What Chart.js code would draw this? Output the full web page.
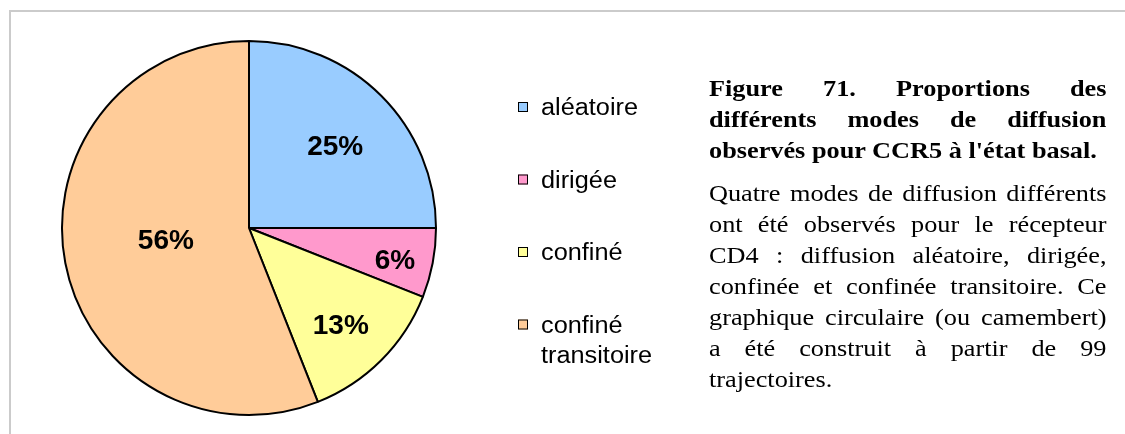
<!DOCTYPE html>
<html>
<head>
<meta charset="utf-8">
<script src="https://cdn.jsdelivr.net/npm/chart.js@4/dist/chart.umd.min.js"></script>
<style>
  html, body { margin: 0; padding: 0; background: #fff; }
  #wrap { position: relative; width: 1125px; height: 434px; overflow: hidden; }
  #frame { position: absolute; left: 9px; top: 10px; width: 1200px; height: 500px;
           border-left: 2px solid #cbcbcb; border-top: 2px solid #cbcbcb; }
  #pie { position: absolute; left: 0; top: 0; }
  /* the caption is set a little wide, like the rest of the figure */
  #caption { position: absolute; left: 709px; top: 73px; width: 363px;
             transform: scaleX(1.095); transform-origin: 0 0;
             font-family: "Liberation Serif", "Times New Roman", serif; font-size: 24px;
             color: #000; text-align: justify; }
  #caption p { margin: 0; line-height: 31px; }
  #caption .title { font-weight: bold; margin-bottom: 12px; }
</style>
</head>
<body>
<div id="wrap">
  <div id="frame"></div>
  <canvas id="pie" width="1125" height="434"></canvas>
  <div id="caption">
    <p class="title">Figure 71. Proportions des différents modes de diffusion observés pour CCR5 à l'état basal.</p>
    <p>Quatre modes de diffusion différents ont été observés pour le récepteur CD4 : diffusion aléatoire, dirigée, confinée et confinée transitoire. Ce graphique circulaire (ou camembert) a été construit à partir de 99 trajectoires.</p>
  </div>
</div>
<script>
// modes de diffusion (% des trajectoires)
var modes = ['aléatoire', 'dirigée', 'confiné', 'confiné transitoire'];
var parts = [25, 6, 13, 56];
var couleurs = ['#99ccff', '#ff99cc', '#ffff99', '#ffcc99'];

// legend lines (the last label wraps in two lines)
var legendLines = [['aléatoire'], ['dirigée'], ['confiné'], ['confiné', 'transitoire']];

// labels inside slices, drawn at a fraction of the radius along the slice middle
var pctLabels = {
  id: 'pctLabels',
  afterDatasetsDraw: function(chart) {
    var ctx = chart.ctx;
    var arcs = chart.getDatasetMeta(0).data;
    var frac = [0.63, 0.80, 0.72, 0.45];
    ctx.save();
    ctx.font = 'bold 28px "Liberation Sans", Arial, sans-serif';
    ctx.fillStyle = '#000';
    ctx.textAlign = 'center';
    ctx.textBaseline = 'middle';
    arcs.forEach(function(a, i) {
      var mid = (a.startAngle + a.endAngle) / 2 + 0.035;
      var r = a.outerRadius * frac[i];
      ctx.fillText(parts[i] + '%', a.x + Math.cos(mid) * r, a.y + Math.sin(mid) * r);
    });
    ctx.restore();
  }
};

// simple legend to the right of the pie
var sideLegend = {
  id: 'sideLegend',
  afterDraw: function(chart) {
    var ctx = chart.ctx;
    var x = 518, y0 = 107, step = 72.5;
    ctx.save();
    ctx.font = '23px "Liberation Sans", Arial, sans-serif';
    ctx.textBaseline = 'middle';
    legendLines.forEach(function(lines, i) {
      var y = y0 + i * step;
      ctx.fillStyle = couleurs[i];
      ctx.fillRect(x, y - 5, 10, 10);
      ctx.strokeStyle = '#000';
      ctx.lineWidth = 1;
      ctx.strokeRect(x + 0.5, y - 4.5, 9, 9);
      ctx.fillStyle = '#000';
      lines.forEach(function(t, k) {
        ctx.save();
        ctx.translate(x + 23, y + 2 + k * 30);
        ctx.scale(1.1, 1);
        ctx.fillText(t, 0, 0);
        ctx.restore();
      });
    });
    ctx.restore();
  }
};

new Chart(document.getElementById('pie'), {
  type: 'pie',
  data: {
    labels: modes,
    datasets: [{
      data: parts,
      backgroundColor: couleurs,
      borderColor: '#000',
      borderWidth: 2
    }]
  },
  options: {
    responsive: false,
    animation: false,
    layout: { padding: { left: 61, top: 40, right: 688, bottom: 18 } },
    plugins: {
      legend: { display: false },
      tooltip: { enabled: false }
    }
  },
  plugins: [pctLabels, sideLegend]
});
</script>
</body>
</html>
